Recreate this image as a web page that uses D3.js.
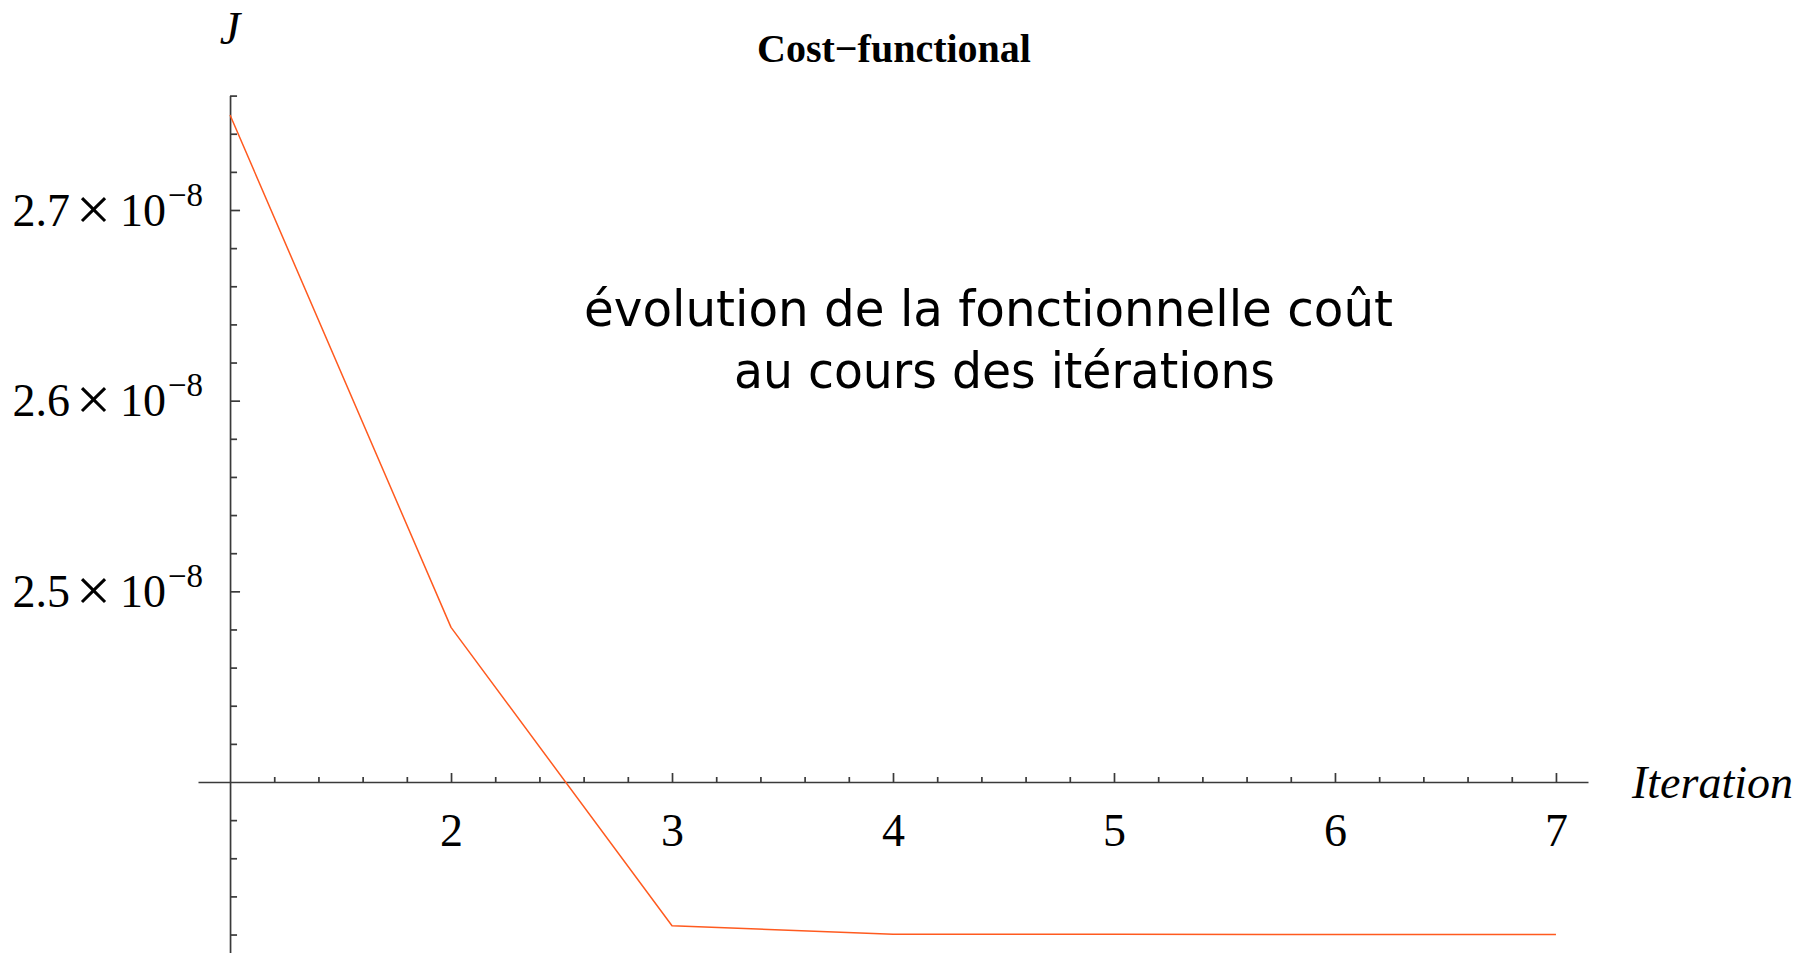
<!DOCTYPE html>
<html>
<head>
<meta charset="utf-8">
<script src="https://cdn.jsdelivr.net/npm/d3@7"></script>
<style>
  body { margin: 0; padding: 0; background: #fff; }
  svg { display: block; }
</style>
</head>
<body>
<script>
// values
const iterations = [1, 2, 3, 4, 5, 6, 7];
const costJ = [2.7498e-8, 2.4811e-8, 2.3246e-8, 2.3202e-8, 2.3201e-8, 2.3200e-8, 2.3200e-8];

const xMajorTicks = [2, 3, 4, 5, 6, 7];
const yMajorTicks = [2.5e-8, 2.6e-8, 2.7e-8];
const yTickMantissa = ["2.5", "2.6", "2.7"];
const yTickExponent = "\u22128";

const title = "Cost\u2212functional";
const xLabel = "Iteration";
const yLabel = "J";
const noteLines = ["évolution de la fonctionnelle coût", "au cours des itérations"];

const width = 1805;
const height = 953;

const serif = "'Liberation Serif', 'Times New Roman', serif";
const axisColor = "#3a3a3a";

const svg = d3.select("body").append("svg")
  .attr("width", width)
  .attr("height", height);

// axes cross at (1, 2.4e-8), Mathematica style
const xScale = d3.scaleLinear()
  .domain([0.855, 7.145])
  .range([198, 1588]);

const yScale = d3.scaleLinear()
  .domain([2.31e-8, 2.76e-8])
  .range([953.6, 95.6]);

const xOrigin = 1;
const yOrigin = 2.4e-8;

const xMinor = d3.range(1.2, 7.01, 0.2).filter(v => Math.abs(v - Math.round(v)) > 0.01);
const yMinor = d3.range(2.32e-8, 2.765e-8, 0.02e-8)
  .filter(v => !yMajorTicks.some(m => Math.abs(m - v) < 1e-12) && Math.abs(v - yOrigin) > 1e-12);

// minor ticks first
const gxMinor = svg.append("g")
  .attr("transform", `translate(0,${yScale(yOrigin)})`)
  .call(d3.axisBottom(xScale)
    .tickValues(xMinor)
    .tickSizeInner(-5)
    .tickSizeOuter(0)
    .tickFormat(""));
gxMinor.select(".domain").remove();
gxMinor.selectAll("text").remove();

const gyMinor = svg.append("g")
  .attr("transform", `translate(${xScale(xOrigin)},0)`)
  .call(d3.axisLeft(yScale)
    .tickValues(yMinor)
    .tickSizeInner(-7)
    .tickSizeOuter(0)
    .tickFormat(""));
gyMinor.select(".domain").remove();
gyMinor.selectAll("text").remove();

// x axis
const gx = svg.append("g")
  .attr("transform", `translate(0,${yScale(yOrigin)})`)
  .call(d3.axisBottom(xScale)
    .tickValues(xMajorTicks)
    .tickSizeInner(-9)
    .tickSizeOuter(0)
    .tickPadding(41)
    .tickFormat(d3.format("d")));

// y axis
const gy = svg.append("g")
  .attr("transform", `translate(${xScale(xOrigin)},0)`)
  .call(d3.axisLeft(yScale)
    .tickValues(yMajorTicks)
    .tickSizeInner(-10)
    .tickSizeOuter(0)
    .tickPadding(27)
    .tickFormat(""));

[gx, gy, gxMinor, gyMinor].forEach(g => {
  g.selectAll(".domain, line")
    .attr("stroke", axisColor)
    .attr("stroke-width", 1.7);
  g.selectAll("text")
    .attr("fill", "#000")
    .style("font-family", serif)
    .style("font-size", "46px");
});

gx.selectAll(".tick text").attr("dy", "0.5em");

// y tick labels like 2.7 × 10^-8
gy.selectAll(".tick text")
  .attr("dy", "0.33em")
  .each(function(d) {
    const t = d3.select(this);
    const i = yMajorTicks.indexOf(d);
    t.text(null);
    t.append("tspan").text(yTickMantissa[i]);
    t.append("tspan").attr("dx", 6).attr("dy", 4)
      .style("font-size", "62px").text("\u00d7");
    t.append("tspan").attr("dx", 9).attr("dy", -4).text("10");
    t.append("tspan").attr("dx", 2).attr("dy", -20)
      .style("font-size", "33px").text(yTickExponent);
  });

// data line
const line = d3.line()
  .x((d, i) => xScale(iterations[i]))
  .y(d => yScale(d));

svg.append("path")
  .datum(costJ)
  .attr("fill", "none")
  .attr("stroke", "#ff5a1f")
  .attr("stroke-width", 1.5)
  .attr("stroke-linejoin", "round")
  .attr("d", line);

// labels
svg.append("text")
  .attr("x", xScale(xOrigin))
  .attr("y", 44)
  .attr("text-anchor", "middle")
  .style("font-family", serif)
  .style("font-style", "italic")
  .style("font-size", "46px")
  .text(yLabel);

svg.append("text")
  .attr("x", 1632)
  .attr("y", 798)
  .style("font-family", serif)
  .style("font-style", "italic")
  .style("font-size", "46px")
  .text(xLabel);

svg.append("text")
  .attr("x", 894)
  .attr("y", 62)
  .attr("text-anchor", "middle")
  .style("font-family", serif)
  .style("font-weight", "bold")
  .style("font-size", "40px")
  .text(title);

// annotation
const noteX = [584, 734];
const noteW = [809, 541];
const noteY = [326, 388];
svg.append("g")
  .selectAll("text")
  .data(noteLines)
  .join("text")
    .attr("x", (d, i) => noteX[i])
    .attr("y", (d, i) => noteY[i])
    .attr("textLength", (d, i) => noteW[i])
    .attr("lengthAdjust", "spacingAndGlyphs")
    .style("font-family", "'DejaVu Sans Condensed', 'Noto Sans', sans-serif")
    .style("font-size", "50px")
    .attr("fill", "#000")
    .text(d => d);
</script>
</body>
</html>
